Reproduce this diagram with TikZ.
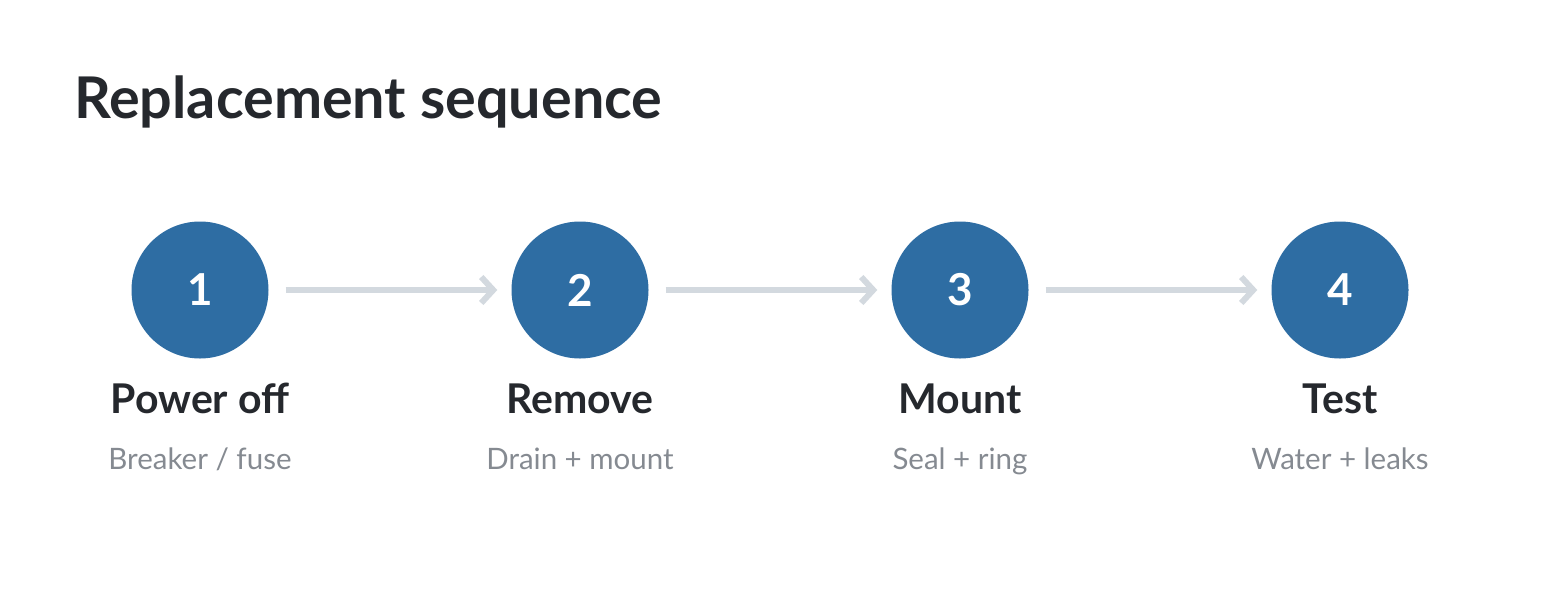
\documentclass[tikz,border=0pt]{standalone}
\usepackage{fontspec}
\setmainfont{Lato}
\usetikzlibrary{arrows.meta}
\definecolor{stepblue}{HTML}{2E6DA3}
\definecolor{darktext}{HTML}{25282D}
\definecolor{greytext}{HTML}{858A91}
\definecolor{arrowgrey}{HTML}{D3D9DF}
\tikzset{
  stepcircle/.style={circle, fill=stepblue, minimum size=137pt, inner sep=0pt, text=white, font=\fontsize{44}{44}\selectfont\bfseries},
  steptitle/.style={anchor=base, text=darktext, font=\fontsize{41}{41}\selectfont\bfseries, inner sep=0pt},
  stepsub/.style={anchor=base, text=greytext, font=\fontsize{29.5}{29.5}\selectfont, inner sep=0pt},
  flow/.style={draw=arrowgrey, line width=6pt, shorten <=17pt, shorten >=14pt, -{Straight Barb[length=12pt,width=26pt]}}
}
\begin{document}
\begin{tikzpicture}[x=1pt,y=-1pt]
\useasboundingbox (0,0) rectangle (1546,600);
\node[anchor=base west, inner sep=0pt, text=darktext, font=\fontsize{57.5}{57.5}\selectfont\bfseries] (title) at (74,118) {Replacement sequence};
\foreach \i/\x/\t/\s in {1/200/{Power off}/{Breaker / fuse}, 2/580/{Remove}/{Drain + mount}, 3/960/{Mount}/{Seal + ring}, 4/1340/{Test}/{Water + leaks}}{
  \node[stepcircle] (c\i) at (\x,290) {\i};
  \node[steptitle] (t\i) at (\x,413) {\t};
  \node[stepsub] (s\i) at (\x,469) {\s};
}
\draw[flow] (c1) -- (c2);
\draw[flow] (c2) -- (c3);
\draw[flow] (c3) -- (c4);
\end{tikzpicture}
\end{document}
